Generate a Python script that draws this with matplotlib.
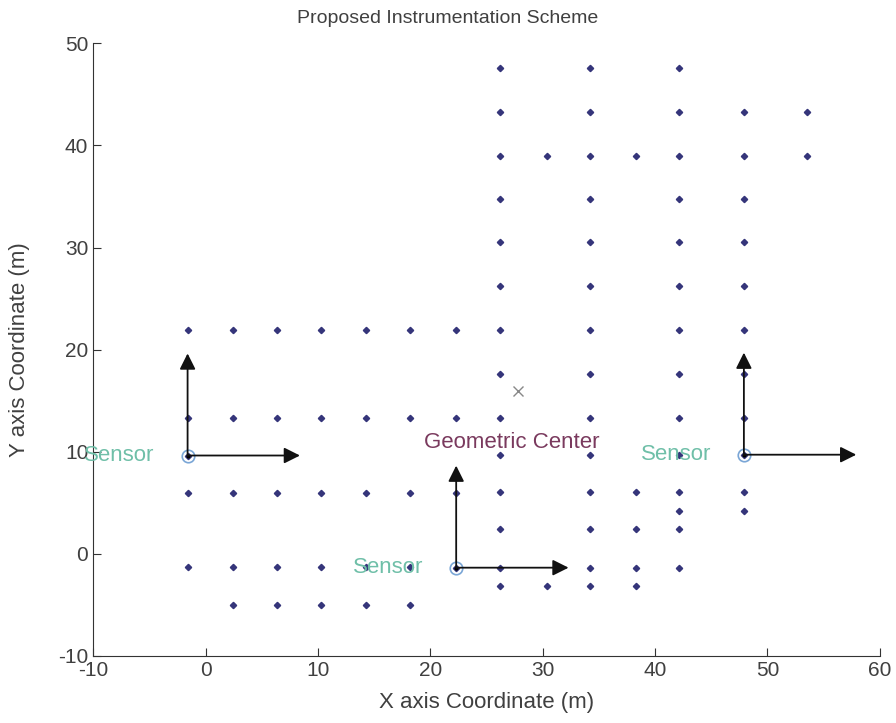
import matplotlib as mpl
import matplotlib.pyplot as plt

mpl.rcParams['font.family'] = ['Liberation Sans', 'DejaVu Sans']
mpl.rcParams['axes.unicode_minus'] = False

# instrumentation points, column by column
col_x = [-1.6, 2.4, 6.4, 10.3, 14.3, 18.2, 22.3,
         26.2, 30.4, 34.2, 38.3, 42.15, 47.9, 53.5]
left_rows = [21.9, 13.25, 5.97, -1.3, -5.0]
tall_rows = [47.6, 43.3, 39.0, 34.75, 30.5, 26.2, 21.95, 17.6, 13.3,
             9.65, 6.0, 2.38, -1.37, -3.17]
col_y = [
    [21.9, 13.25, 9.62, 5.97, -1.3],
    left_rows, left_rows, left_rows, left_rows, left_rows,
    [21.9, 13.25, 5.97, -1.37],
    tall_rows,
    [39.0, -3.17],
    tall_rows,
    [39.0, 6.0, 2.38, -1.37, -3.17],
    [47.6, 43.3, 39.0, 34.75, 30.5, 26.2, 21.95, 17.6, 13.3, 9.7, 6.0, 4.17, 2.38, -1.37],
    [43.3, 39.0, 34.75, 30.5, 26.2, 21.95, 17.6, 13.3, 9.7, 6.0, 4.17],
    [43.3, 39.0],
]

sensor_x = [-1.6, 22.3, 47.9]
sensor_y = [9.62, -1.37, 9.7]
arrow_len = 10

center_x, center_y = 27.8, 15.9

txt = '#404040'

fig = plt.figure(figsize=(8.96, 7.23), dpi=100)
ax = fig.add_axes([0.104, 0.093, 0.878, 0.847])

xs, ys = [], []
for x, yl in zip(col_x, col_y):
    xs += [x] * len(yl)
    ys += yl
ax.plot(xs, ys, linestyle='none', marker='D', markersize=3.2, color='#35357a')

for sx, sy in zip(sensor_x, sensor_y):
    ax.plot(sx, sy, 'o', mfc='none', mec='#7aa6d6', markersize=9, mew=1.2)
    ax.plot(sx, sy, '.', color='black', markersize=4)
    ax.annotate('', xy=(sx, sy + arrow_len), xytext=(sx, sy),
                arrowprops=dict(arrowstyle='-|>', color='#111111', lw=1.3,
                                mutation_scale=24, shrinkA=0, shrinkB=0))
    ax.annotate('', xy=(sx + arrow_len, sy), xytext=(sx, sy),
                arrowprops=dict(arrowstyle='-|>', color='#111111', lw=1.3,
                                mutation_scale=24, shrinkA=0, shrinkB=0))
    ax.text(sx - 9.2, sy, 'Sensor', color='#6fbfa8', fontsize=16,
            ha='left', va='center', clip_on=False)

ax.plot(center_x, center_y, 'x', color='#888888', markersize=7, mew=1)
ax.text(center_x - 8.4, center_y - 5.0, 'Geometric Center', color='#7a3a5e',
        fontsize=16, ha='left', va='center')

ax.set_xlim(-10, 60)
ax.set_ylim(-10, 50)
ax.set_xticks(range(-10, 61, 10))
ax.set_yticks(range(-10, 51, 10))
ax.tick_params(direction='in', length=6, labelsize=15, labelcolor=txt,
               color='#333333')
ax.spines['top'].set_visible(False)
ax.spines['right'].set_visible(False)
ax.spines['left'].set_color('#333333')
ax.spines['bottom'].set_color('#333333')

fig.text(0.5, 0.975, 'Proposed Instrumentation Scheme', fontsize=14,
         color=txt, ha='center', va='center')
ax.set_xlabel('X axis Coordinate (m)', fontsize=16, color=txt, labelpad=9)
ax.set_ylabel('Y axis Coordinate (m)', fontsize=16, color=txt, labelpad=20)

plt.savefig('out.png', dpi=100)
